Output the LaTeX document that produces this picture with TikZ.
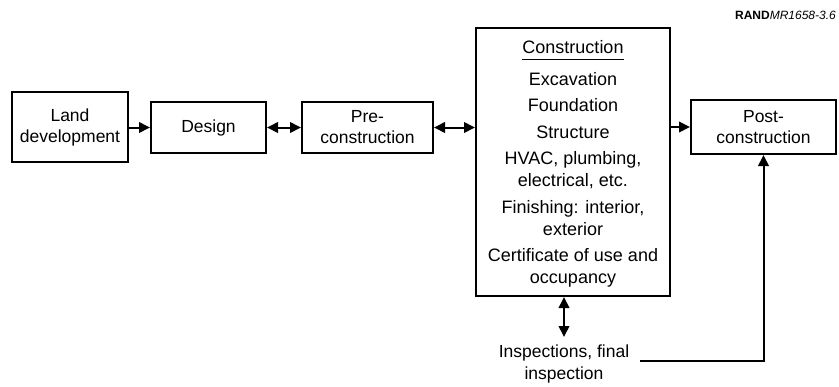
\documentclass[tikz,border=0pt]{standalone}
\usepackage{fontspec}
\setmainfont{Liberation Sans}
\usepackage{tikz}
\usetikzlibrary{arrows.meta}
\usetikzlibrary{positioning}
\usetikzlibrary{calc}

\begin{document}
\begin{tikzpicture}[>={Triangle[length=11pt,width=10.5pt]}, x=1pt, y=-1pt,
	stage/.style={draw, line width=2pt, align=center, inner sep=0pt, font=\fontsize{17.5}{21}\selectfont},
	link/.style={line width=2pt}]
			\useasboundingbox (0,0) rectangle (839,386);
			%coordinates
			\coordinate (LLL)  at (70,127);
			\coordinate (LLD)  at (208.5,127.5);
			\coordinate (LLP)  at (367.5,127.5);
			\coordinate (LLC)  at (573,162);
			\coordinate (LLS)  at (763.5,127);
			
			%nodes
			\node[stage, minimum width=116pt, minimum height=70pt] (land) at (LLL) {Land\\development};
			\node[stage, minimum width=115pt, minimum height=51pt] (design) at (LLD) {Design};
			\node[stage, minimum width=131pt, minimum height=51pt] (pre) at (LLP) {Pre-\\construction};
			\node[stage, minimum width=194pt, minimum height=268pt] (cons) at (LLC) {};
			\node[stage, minimum width=145pt, minimum height=54pt] (post) at (LLS) {Post-\\construction};
			
			\node[anchor=base, inner sep=0pt, font=\fontsize{18}{22}\selectfont] (constitle) at (573,53) {Construction};
			\draw[line width=1pt] ([yshift=-6pt]constitle.base west) -- ([yshift=-6pt]constitle.base east);
			\node[anchor=north, inner sep=0pt, align=center, font=\fontsize{18}{22}\selectfont] (consitems) at (573,72) {Excavation\\[4.5pt]
				Foundation\\[4.5pt] Structure\\[4.5pt] HVAC, plumbing,\\ electrical, etc.\\[4.5pt]
				Finishing: interior,\\ exterior\\[4.5pt] Certificate of use and\\ occupancy};
			
			\node[anchor=north, inner sep=0pt, align=center, font=\fontsize{17.5}{22}\selectfont] (insp) at (564,345) {Inspections, final\\inspection};
			\node[anchor=base east, inner sep=0pt, font=\fontsize{12}{14}\selectfont] (tag) at (836,19) {\textbf{RAND}\textit{MR1658-3.6}};
			
			\draw[link, ->] (land.east |- LLD) -- (design.west);
			\draw[link, <->] (design.east) -- (pre.west);
			\draw[link, <->] (pre.east) -- (pre.east -| cons.west);
			\draw[link, ->] (cons.east |- post.west) -- (post.west);
			\draw[link, <->] (insp.north |- cons.south) -- ([yshift=8pt]insp.north);
			\draw[link, ->] ($(insp.east) + (11,-3)$) -| (post.south);
			\end{tikzpicture}
\end{document}
